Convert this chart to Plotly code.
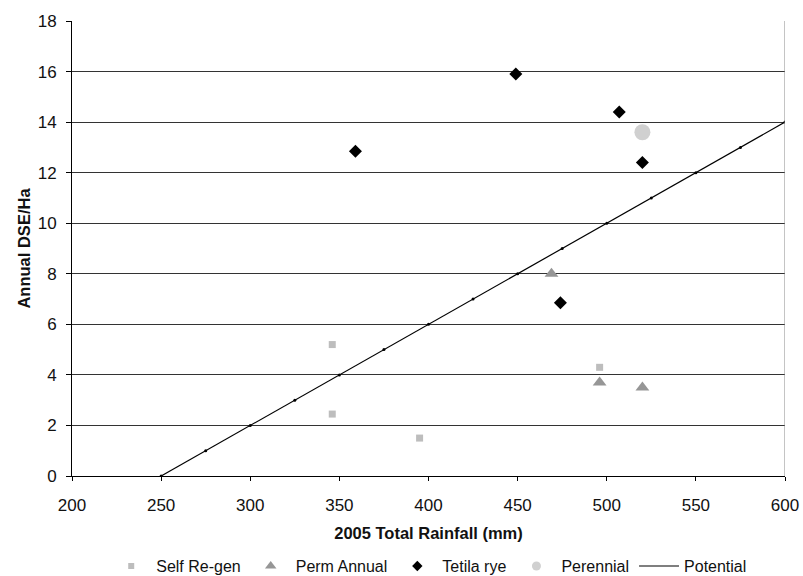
import plotly.graph_objects as go

# Observed annual stocking (DSE/ha) against 2005 rainfall, by pasture type
self_regen_rain = [346, 346, 395, 496]
self_regen_dse = [5.2, 2.45, 1.5, 4.3]

perm_annual_rain = [469, 496, 520]
perm_annual_dse = [8.0, 3.7, 3.5]

tetila_rain = [359, 449, 507, 520, 474]
tetila_dse = [12.85, 15.9, 14.4, 12.4, 6.85]

perennial_rain = [520]
perennial_dse = [13.6]

# Potential stocking rate line
potential_rain = [250, 275, 300, 325, 350, 375, 400, 425, 450, 475, 500, 525, 550, 575, 600]
potential_dse = [0, 1, 2, 3, 4, 5, 6, 7, 8, 9, 10, 11, 12, 13, 14]

x_ticks = [200, 250, 300, 350, 400, 450, 500, 550, 600]
y_ticks = [0, 2, 4, 6, 8, 10, 12, 14, 16, 18]

FONT = "Liberation Sans, Arial, sans-serif"

# (name, x, y, symbol, plotted size, legend size, colour)
series = [
    ("Self Re-gen", self_regen_rain, self_regen_dse, "square", 7, 6, "#bdbdbd"),
    ("Perm Annual", perm_annual_rain, perm_annual_dse, "triangle-up", 12, 10, "#969696"),
    ("Tetila rye", tetila_rain, tetila_dse, "diamond", 10, 8, "#000000"),
    ("Perennial", perennial_rain, perennial_dse, "circle", 16, 9, "#d0d0d0"),
]

fig = go.Figure()

for name, xs, ys, sym, size, _, col in series:
    fig.add_trace(go.Scatter(
        x=xs, y=ys, mode="markers", name=name, showlegend=False, legendgroup=name,
        marker=dict(symbol=sym, size=size, color=col),
    ))

fig.add_trace(go.Scatter(
    x=potential_rain, y=potential_dse, mode="lines+markers", name="Potential",
    showlegend=False, legendgroup="Potential",
    line=dict(color="#000000", width=1.2),
    marker=dict(symbol="circle", size=3, color="#000000"),
))

# Legend keys drawn with smaller symbols than the plotted points
for name, _, _, sym, _, lsize, col in series:
    fig.add_trace(go.Scatter(
        x=[None], y=[None], mode="markers", name=name, legendgroup=name,
        marker=dict(symbol=sym, size=lsize, color=col),
    ))
fig.add_trace(go.Scatter(
    x=[None], y=[None], mode="lines", name="Potential", legendgroup="Potential",
    line=dict(color="#000000", width=1.2),
))

fig.update_layout(
    width=803, height=576,
    margin=dict(l=72, r=18, t=21, b=100, autoexpand=False),
    paper_bgcolor="white", plot_bgcolor="white",
    showlegend=True,
    legend=dict(
        orientation="h", x=0.501, xanchor="center", y=-0.198, yanchor="middle",
        font=dict(family=FONT, size=16, color="#111111"),
        itemwidth=40, tracegroupgap=0,
    ),
    xaxis=dict(
        range=[200, 600], tickvals=x_ticks, showgrid=False,
        showline=True, linecolor="#000000", linewidth=1,
        ticks="outside", ticklen=4, tickcolor="#000000",
        ticklabelstandoff=10,
        tickfont=dict(family=FONT, size=17, color="#111111"),
        title=dict(text="<b>2005 Total Rainfall (mm)</b>", standoff=13,
                   font=dict(family=FONT, size=16.5, color="#111111")),
        zeroline=False,
    ),
    yaxis=dict(
        range=[0, 18], tickvals=y_ticks, showgrid=True, gridcolor="#333333", gridwidth=1,
        showline=True, linecolor="#000000", linewidth=1,
        ticks="outside", ticklen=5, tickcolor="#000000",
        ticklabelstandoff=6,
        tickfont=dict(family=FONT, size=17, color="#111111"),
        title=dict(text="<b>Annual DSE/Ha</b>", standoff=2,
                   font=dict(family=FONT, size=16.5, color="#111111")),
        zeroline=False,
    ),
)

# Right-hand border of the plotting area
fig.add_shape(type="line", xref="x", yref="paper", x0=600, x1=600, y0=0, y1=1,
              line=dict(color="#888888", width=1))

fig.write_html("out.html")
